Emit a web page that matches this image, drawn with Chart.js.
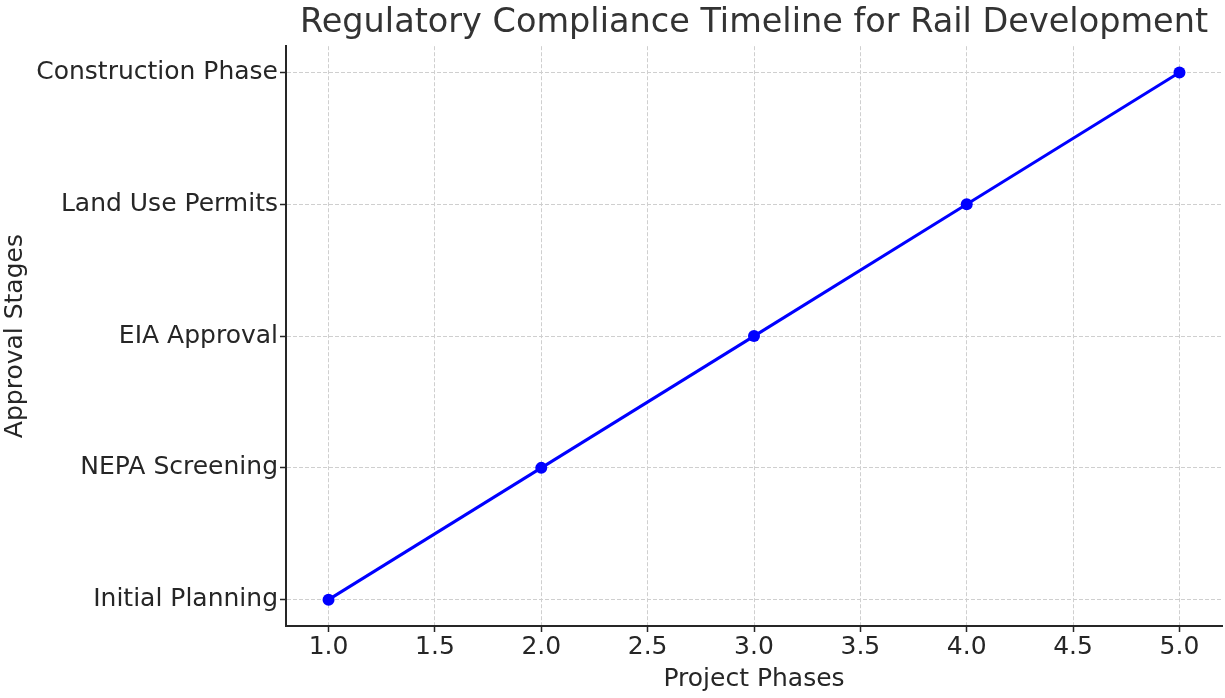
<!DOCTYPE html>
<html>
<head>
<meta charset="utf-8">
<script src="https://cdn.jsdelivr.net/npm/chart.js@4"></script>
<style>
  html, body { margin: 0; padding: 0; background: #fff; overflow: hidden; }
  #wrap { width: 1225px; height: 698px; overflow: hidden; }
  #c { display: block; }
</style>
</head>
<body>
<div id="wrap"><canvas id="c" width="1228" height="698"></canvas></div>
<script>
// Approval stages along the rail project, in order
const stages = ["Initial Planning", "NEPA Screening", "EIA Approval", "Land Use Permits", "Construction Phase"];
// Project phase at which each stage is reached
const phases = [1, 2, 3, 4, 5];
// Stage reached at each phase (index into stages)
const stageIndex = [0, 1, 2, 3, 4];
// Tick marks on the phase axis
const phaseTicks = [1.0, 1.5, 2.0, 2.5, 3.0, 3.5, 4.0, 4.5, 5.0];

const FONT = "'DejaVu Sans', sans-serif";
const TXT = '#262626';

const points = phases.map((p, i) => ({ x: p, y: stageIndex[i] }));

const gridStyle = {
  color: '#cfcfcf',
  lineWidth: 1,
  tickColor: '#262626',
  tickLength: 6,
  tickWidth: 1.5,
  tickBorderDash: []
};

new Chart(document.getElementById('c'), {
  type: 'line',
  data: {
    datasets: [{
      data: points,
      borderColor: '#0000ff',
      backgroundColor: '#0000ff',
      borderWidth: 3,
      pointRadius: 6,
      pointHoverRadius: 6,
      pointBorderWidth: 0,
      tension: 0,
      fill: false
    }]
  },
  options: {
    responsive: false,
    animation: false,
    layout: { padding: { left: 0, right: 0, top: 0, bottom: 0 } },
    plugins: {
      legend: { display: false },
      tooltip: { enabled: false },
      title: {
        display: true,
        text: 'Regulatory Compliance Timeline for Rail Development',
        fullSize: false,
        color: '#333333',
        font: { family: FONT, size: 33.5, weight: 'normal' },
        padding: { top: 3, bottom: 3 }
      }
    },
    scales: {
      x: {
        type: 'linear',
        min: 0.8,
        max: 5.2,
        afterBuildTicks: (s) => { s.ticks = phaseTicks.map(v => ({ value: v })); },
        afterFit: (s) => { s.height = 72; s.paddingLeft = 0; s.paddingRight = 0; },
        ticks: {
          color: TXT,
          font: { family: FONT, size: 25 },
          padding: 0,
          maxRotation: 0,
          callback: (v) => Number(v).toFixed(1)
        },
        grid: gridStyle,
        border: { display: true, color: '#262626', width: 2, dash: [4, 2] },
        title: {
          display: true,
          text: 'Project Phases',
          color: TXT,
          font: { family: FONT, size: 25 },
          padding: { top: 0, bottom: 4 }
        }
      },
      y: {
        type: 'linear',
        min: -0.2,
        max: 4.2,
        afterBuildTicks: (s) => { s.ticks = stages.map((_, i) => ({ value: i })); },
        afterFit: (s) => { s.width = 286; },
        ticks: {
          color: TXT,
          font: { family: FONT, size: 25 },
          padding: 2,
          callback: (v) => stages[v] !== undefined ? stages[v] : ''
        },
        grid: gridStyle,
        border: { display: true, color: '#262626', width: 2, dash: [4, 2] },
        title: {
          display: true,
          text: 'Approval Stages',
          color: TXT,
          font: { family: FONT, size: 25 },
          padding: { top: 0, bottom: 0 }
        }
      }
    }
  }
});
</script>
</body>
</html>
